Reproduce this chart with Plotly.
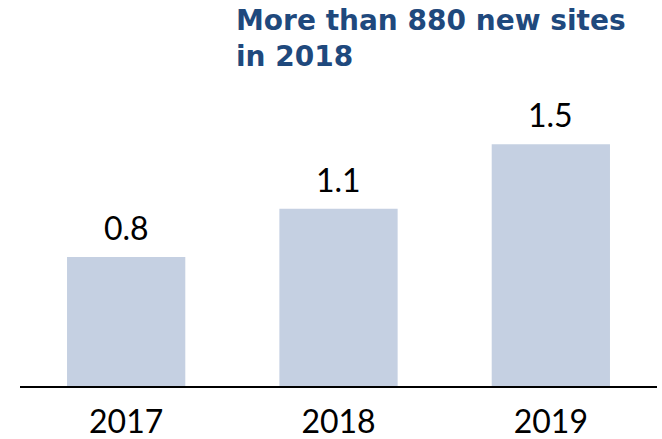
import plotly.graph_objects as go

# Values in millions, per year
years = ["2017", "2018", "2019"]
values = [0.8, 1.1, 1.5]
value_labels = ["0.8", "1.1", "1.5"]

title_text = "More than 880 new sites<br>in 2018"

W, H = 662, 439
M_L, M_R, M_T, M_B = 20, 5, 70, 53
plot_w = W - M_L - M_R
plot_h = H - M_T - M_B

fig = go.Figure(
    go.Bar(
        x=years,
        y=values,
        marker=dict(color="#C5D0E2", line=dict(width=0)),
        hoverinfo="skip",
    )
)

# Value labels sitting above each bar (category index positions)
for i, (v, lab) in enumerate(zip(values, value_labels)):
    fig.add_annotation(
        x=i, y=v, xref="x", yref="y",
        text=lab, showarrow=False,
        yanchor="bottom", yshift=8,
        font=dict(family="Lato", size=32, color="#000000"),
    )

# Headline, two lines, left-aligned
fig.add_annotation(
    x=(234 - M_L) / plot_w, xref="paper", xanchor="left",
    y=1 + (M_T - 2) / plot_h, yref="paper", yanchor="top",
    text=title_text, showarrow=False, align="left",
    font=dict(family="DejaVu Sans", size=28, color="#1F497D", weight="bold"),
)

fig.update_layout(
    width=W,
    height=H,
    margin=dict(l=M_L, r=M_R, t=M_T, b=M_B),
    paper_bgcolor="white",
    plot_bgcolor="white",
    bargap=0.443,
    showlegend=False,
)

fig.update_xaxes(
    type="category",
    range=[-0.5, len(years) - 0.5],
    showline=True,
    linecolor="#000000",
    linewidth=2,
    ticks="",
    showgrid=False,
    automargin=False,
    tickfont=dict(family="Lato", size=32, color="#000000"),
    ticklabelstandoff=7,
)
fig.update_yaxes(
    range=[0, 1.96],
    visible=False,
    showgrid=False,
    zeroline=False,
    automargin=False,
)

fig.write_html("out.html")
